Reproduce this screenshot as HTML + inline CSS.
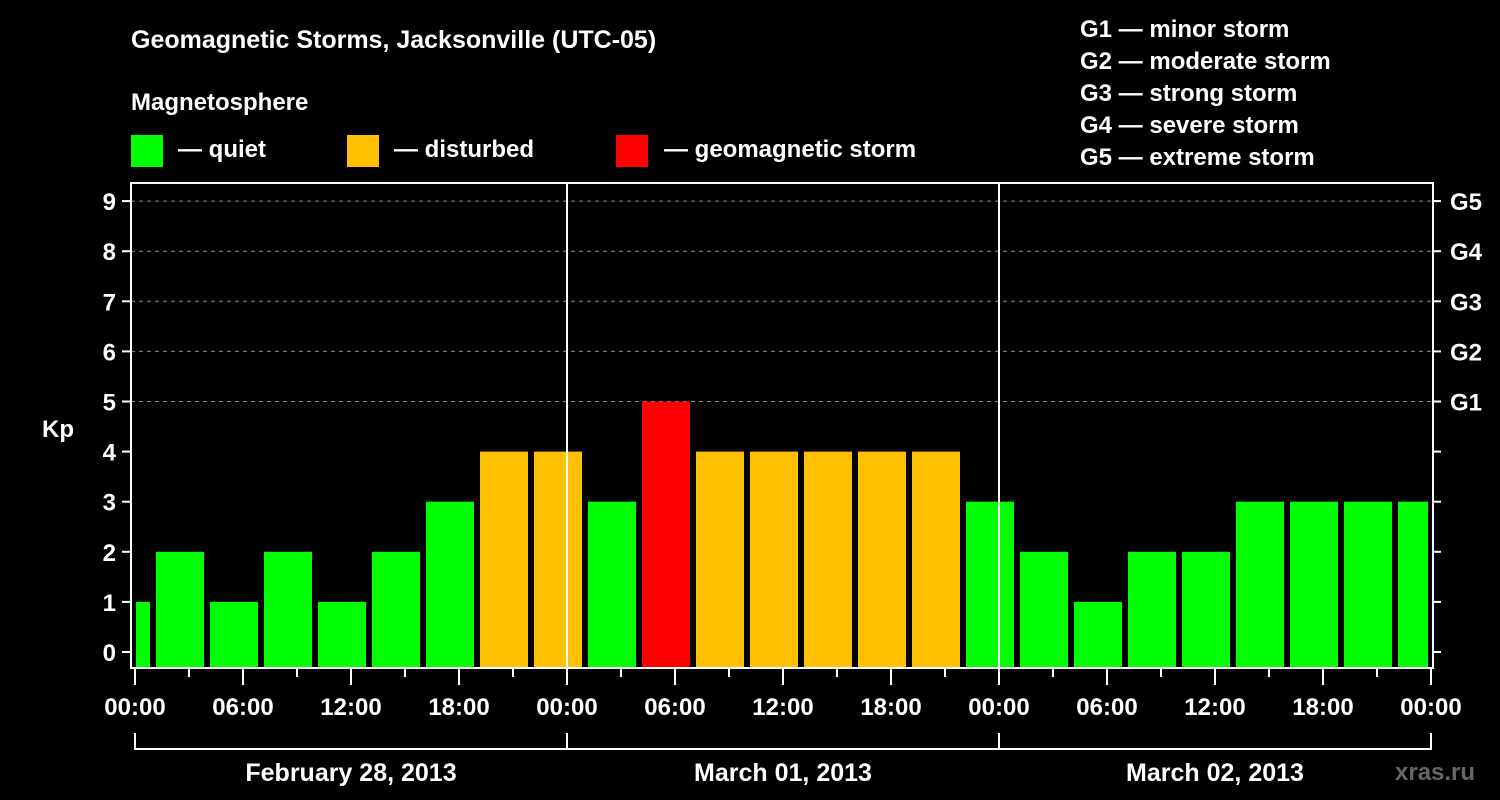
<!DOCTYPE html>
<html><head><meta charset="utf-8"><style>
html,body{margin:0;padding:0;background:#000;}
svg{display:block;font-family:"Liberation Sans",sans-serif;font-weight:bold;}
</style></head><body>
<svg id="chart" width="1500" height="800" viewBox="0 0 1500 800">
<rect width="1500" height="800" fill="#000"/>
<text x="131" y="48" fill="#fff" font-size="25">Geomagnetic Storms, Jacksonville (UTC-05)</text>
<text x="131" y="110" fill="#fff" font-size="24">Magnetosphere</text>
<g><rect x="131" y="135" width="32" height="32" fill="#00ff00"/><text x="178" y="157" fill="#fff" font-size="24">— quiet</text></g>
<g><rect x="347" y="135" width="32" height="32" fill="#ffc000"/><text x="394" y="157" fill="#fff" font-size="24">— disturbed</text></g>
<g><rect x="616" y="135" width="32" height="32" fill="#ff0000"/><text x="664" y="157" fill="#fff" font-size="24">— geomagnetic storm</text></g>
<g fill="#fff" font-size="24">
<text x="1080" y="37">G1 — minor storm</text>
<text x="1080" y="69">G2 — moderate storm</text>
<text x="1080" y="101">G3 — strong storm</text>
<text x="1080" y="133">G4 — severe storm</text>
<text x="1080" y="165">G5 — extreme storm</text>
</g>
<g id="grid"></g>
<g id="bars"></g>
<g id="axes"></g>
<text x="1395" y="780" fill="#666" font-size="24">xras.ru</text>
</svg>
<script>
const kpValues=[1,2,1,2,1,2,3,4,4,3,5,4,4,4,4,4,3,2,1,2,2,3,3,3,3];
const binStartHours=[-2,1,4,7,10,13,16,19,22,25,28,31,34,37,40,43,46,49,52,55,58,61,64,67,70];
const yTicks=[0,1,2,3,4,5,6,7,8,9];
const gLabels=["G1","G2","G3","G4","G5"];
const xTickLabels=["00:00","06:00","12:00","18:00","00:00","06:00","12:00","18:00","00:00","06:00","12:00","18:00","00:00"];
const dayLabels=["February 28, 2013","March 01, 2013","March 02, 2013"];

const NS="http://www.w3.org/2000/svg";
const X0=135,PXH=18,Y0=652,PXK=50.1,L=131,R=1433,T=183,B=668;
const xs=h=>X0+h*PXH, ys=v=>Y0-v*PXK;
function mk(tag,attrs,parent,text){const e=document.createElementNS(NS,tag);for(const k in attrs)e.setAttribute(k,attrs[k]);if(text!==undefined)e.textContent=text;document.getElementById(parent).appendChild(e);return e;}

yTicks.forEach(v=>{ if(v>=5){
 const e=mk('line',{x1:L,x2:R,y1:ys(v),y2:ys(v),stroke:'#888','stroke-dasharray':'4,4','stroke-width':1},'grid');
 
 
}});
kpValues.forEach((v,i)=>{
 const s=binStartHours[i];
 let x1=Math.max(xs(s)+3,X0+1), x2=Math.min(xs(s+3)-3,xs(72)-3);
 const col=v>=5?'#ff0000':(v>=4?'#ffc000':'#00ff00');
 const r=mk('rect',{x:x1,y:ys(v),width:x2-x1,height:B-1-ys(v),fill:col},'bars');
 
 
});
// axes frame
const f=mk('rect',{x:L,y:T,width:R-L,height:B-T,fill:'none',stroke:'#fff','stroke-width':2},'axes');


[24,48].forEach(h=>{const e=mk('line',{x1:xs(h),x2:xs(h),y1:T,y2:B,stroke:'#fff','stroke-width':2},'axes');
 
 });
yTicks.forEach(v=>{
 mk('line',{x1:122,x2:L,y1:ys(v),y2:ys(v),stroke:'#fff','stroke-width':2},'axes');
 mk('line',{x1:R,x2:1441,y1:ys(v),y2:ys(v),stroke:'#fff','stroke-width':2},'axes');
 const t=mk('text',{x:116,y:ys(v)+9,fill:'#fff','font-size':24,'text-anchor':'end'},'axes',String(v));
 
 
});
gLabels.forEach((g,i)=>{const t=mk('text',{x:1450,y:ys(5+i)+9,fill:'#fff','font-size':24},'axes',g);
 
 });
const kp=mk('text',{x:42,y:437,fill:'#fff','font-size':24},'axes','Kp');


for(let h=0;h<=72;h+=3){mk('line',{x1:xs(h),x2:xs(h),y1:B,y2:h%6==0?685:677,stroke:'#fff','stroke-width':2},'axes');}
xTickLabels.forEach((l,i)=>{const t=mk('text',{x:xs(i*6),y:715,fill:'#fff','font-size':24,'text-anchor':'middle'},'axes',l);
 
 });
mk('line',{x1:xs(0),x2:xs(72),y1:749,y2:749,stroke:'#fff','stroke-width':2},'axes');
[0,24,48,72].forEach(h=>mk('line',{x1:xs(h),x2:xs(h),y1:733,y2:750,stroke:'#fff','stroke-width':2},'axes'));
dayLabels.forEach((d,i)=>{const t=mk('text',{x:xs(i*24+12),y:781,fill:'#fff','font-size':25,'text-anchor':'middle'},'axes',d);
 
 });
</script>
</body></html>
